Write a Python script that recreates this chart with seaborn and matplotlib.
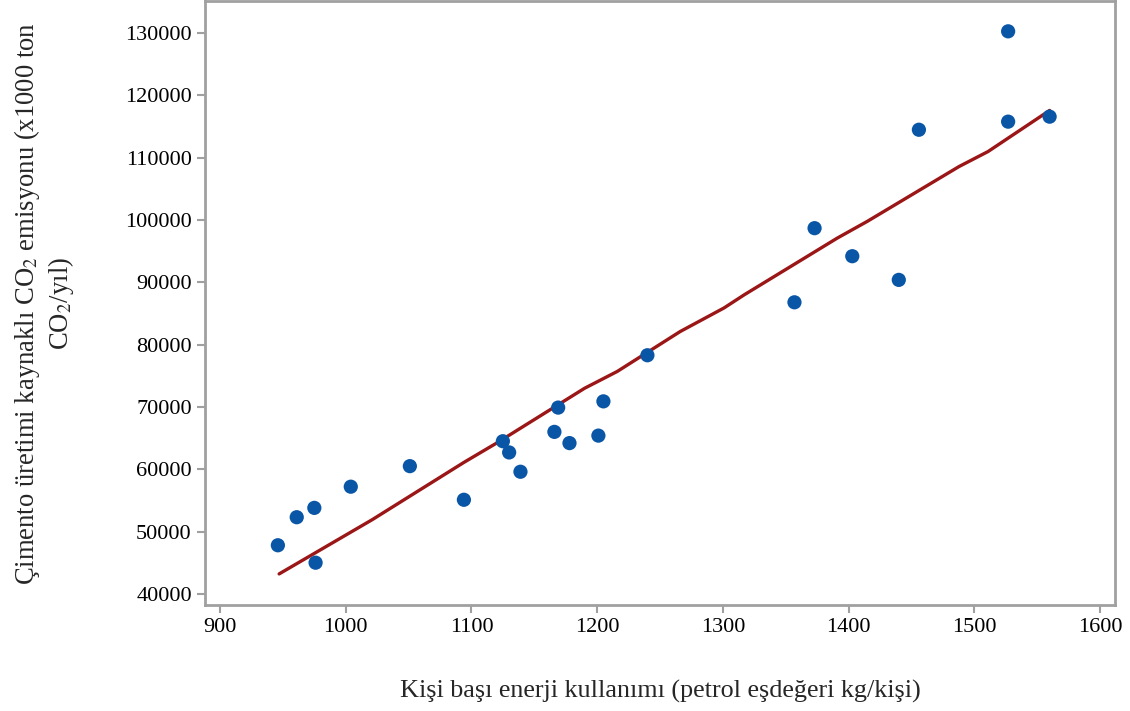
import matplotlib
matplotlib.use("Agg")
import matplotlib.pyplot as plt
import seaborn as sns
import pandas as pd

# energy use per person (kg oil eq.) vs cement CO2 emission (x1000 t)
energy = [1527, 1560, 1527, 1456, 1373, 1403, 1440, 1357, 1240, 1169,
          1205, 1166, 1178, 1201, 1125, 1130, 1139, 1094, 1051, 1004,
          975, 961, 946, 976]
emission = [130300, 116600, 115800, 114500, 98700, 94200, 90400, 86800,
            78300, 69900, 70900, 66000, 64200, 65400, 64500, 62700,
            59600, 55100, 60500, 57200, 53800, 52300, 47800, 45000]

# smoothed fit line
fit_x = [947, 1021, 1094, 1120, 1190, 1216, 1266, 1301, 1317, 1391,
         1415, 1488, 1511, 1560]
fit_y = [43200, 51900, 61100, 64200, 73000, 75700, 82100, 85900, 88000,
         97100, 99800, 108600, 111000, 117600]

df = pd.DataFrame({"energy": energy, "emission": emission})
fit = pd.DataFrame({"x": fit_x, "y": fit_y})

sns.set_style("white")
plt.rcParams["font.family"] = ["Liberation Serif", "DejaVu Serif"]
plt.rcParams["mathtext.fontset"] = "stix"

fig = plt.figure(figsize=(11.3, 7.11), dpi=100)
ax = fig.add_axes([0.1814, 0.149, 0.8053, 0.849])

sns.lineplot(data=fit, x="x", y="y", ax=ax, color="#9b1616", linewidth=2.4,
             estimator=None, sort=False)
sns.scatterplot(data=df, x="energy", y="emission", ax=ax, color="#0a56a6",
                s=105, edgecolor="none", zorder=3)

ax.set_xlim(888, 1612)
ax.set_ylim(38200, 135100)
ax.set_xticks(range(900, 1601, 100))
ax.set_yticks(range(40000, 130001, 10000))

for sp in ax.spines.values():
    sp.set_color("#a0a0a0")
    sp.set_linewidth(2)
ax.tick_params(axis="both", which="major", length=6, width=1.5, color="#a0a0a0",
               labelsize=16, labelcolor="black", direction="out",
               left=True, bottom=True)

ax.set_xlabel("Kişi başı enerji kullanımı (petrol eşdeğeri kg/kişi)",
              fontsize=18.8, labelpad=31)
ax.set_ylabel("Çimento üretimi kaynaklı CO$_2$ emisyonu (x1000 ton\nCO$_2$/yıl)",
              fontsize=19.2, labelpad=35)

fig.savefig("out.png", dpi=100)
